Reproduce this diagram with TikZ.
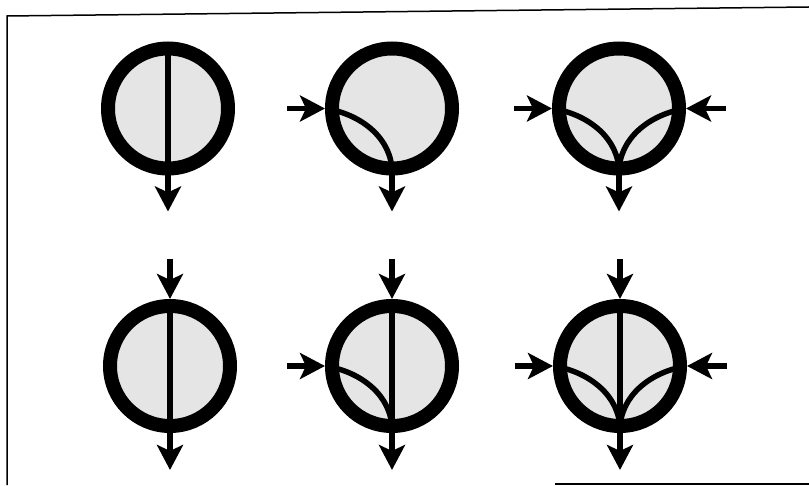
\documentclass[tikz,border=0pt]{standalone}
\usetikzlibrary{arrows.meta,positioning}

\begin{document}
\begin{tikzpicture}[
    x=1pt, y=1pt,
    node distance=36pt,
    mixer/.style={circle, draw, line width=14pt, fill=black!10, minimum size=120pt, inner sep=0pt},
    flow/.style={line width=5.5pt, shorten <=3pt, shorten >=3pt},
    arrow/.style={-{Stealth[length=25pt,width=26pt,inset=6pt]}, line width=5.5pt}
]
    \useasboundingbox (0,0) rectangle (809,485);
    % frame
    \draw[line width=1.5pt] (7,0) -- (7,469) -- (809,478);
    \draw[line width=1.5pt] (555,1) -- (809,1);

    % upper row
    \node[mixer] (m1) at (168,376.5) {};
    \node[mixer] (m2) at (392,376.5) {};
    \node[mixer] (m3) at (619,376.5) {};
    \coordinate[below=of m1] (m1out);
    \coordinate[below=of m2] (m2out);
    \coordinate[below=of m3] (m3out);
    \coordinate[left=38pt of m2] (m2left);
    \coordinate[left=38pt of m3] (m3left);
    \coordinate[right=40pt of m3] (m3right);

    \draw[flow] (m1.north) -- (m1.south);
    \draw[flow] (m2.west) to[out=-10, in=90] (m2.south);
    \draw[flow] (m3.west) to[out=-10, in=90] (m3.south);
    \draw[flow] (m3.east) to[out=190, in=90] (m3.south);

    \draw[arrow] (m1.south) -- (m1out);
    \draw[arrow] (m2.south) -- (m2out);
    \draw[arrow] (m3.south) -- (m3out);
    \draw[arrow] (m2left) -- (m2.west);
    \draw[arrow] (m3left) -- (m3.west);
    \draw[arrow] (m3right) -- (m3.east);

    % lower row
    \node[mixer] (m4) at (170,119) {};
    \node[mixer] (m5) at (392,119) {};
    \node[mixer] (m6) at (620,119) {};
    \coordinate[below=37pt of m4] (m4out);
    \coordinate[below=37pt of m5] (m5out);
    \coordinate[below=37pt of m6] (m6out);
    \coordinate[above=40pt of m4] (m4in);
    \coordinate[above=40pt of m5] (m5in);
    \coordinate[above=40pt of m6] (m6in);
    \coordinate[left=38pt of m5] (m5left);
    \coordinate[left=38pt of m6] (m6left);
    \coordinate[right=40pt of m6] (m6right);

    \draw[flow] (m4.north) -- (m4.south);
    \draw[flow] (m5.north) -- (m5.south);
    \draw[flow] (m6.north) -- (m6.south);
    \draw[flow] (m5.west) to[out=-10, in=90] (m5.south);
    \draw[flow] (m6.west) to[out=-10, in=90] (m6.south);
    \draw[flow] (m6.east) to[out=190, in=90] (m6.south);

    \draw[arrow] (m4in) -- (m4.north);
    \draw[arrow] (m5in) -- (m5.north);
    \draw[arrow] (m6in) -- (m6.north);
    \draw[arrow] (m4.south) -- (m4out);
    \draw[arrow] (m5.south) -- (m5out);
    \draw[arrow] (m6.south) -- (m6out);
    \draw[arrow] (m5left) -- (m5.west);
    \draw[arrow] (m6left) -- (m6.west);
    \draw[arrow] (m6right) -- (m6.east);
\end{tikzpicture}
\end{document}
